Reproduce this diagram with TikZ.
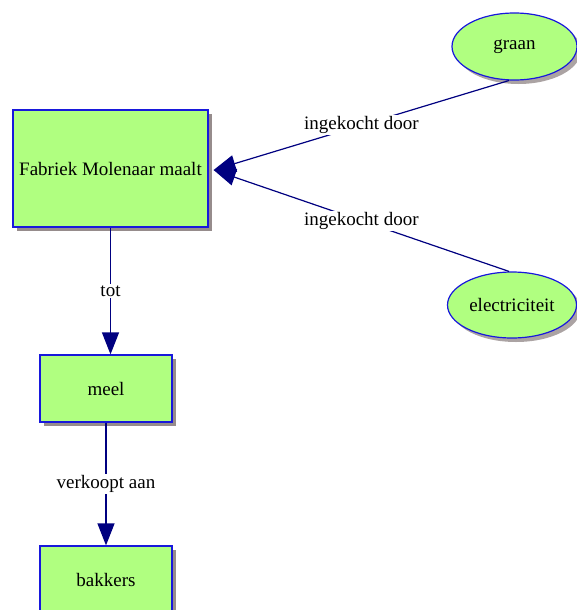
\documentclass[tikz,border=0pt]{standalone}
\usepackage{fontspec}
\setmainfont{Liberation Serif}
\newfontfamily\diafont{Liberation Serif}
\usetikzlibrary{arrows.meta,shapes.geometric,shadows}
\definecolor{nodefill}{RGB}{176,255,128}
\definecolor{nodeborder}{RGB}{24,24,220}
\definecolor{edgecol}{RGB}{0,0,128}
\definecolor{shadowcol}{RGB}{150,140,140}
\begin{document}
\begin{tikzpicture}[x=1pt,y=-1pt,
  every node/.style={font=\diafont\fontsize{19}{22}\selectfont},
  boxnode/.style={rectangle, draw=nodeborder, line width=1.2pt, fill=nodefill, inner sep=0pt,
    drop shadow={shadow xshift=4pt, shadow yshift=-4pt, fill=shadowcol, opacity=1}},
  ellnode/.style={ellipse, draw=nodeborder, line width=1.2pt, fill=nodefill, inner sep=0pt,
    drop shadow={shadow xshift=4pt, shadow yshift=-4pt, fill=shadowcol, opacity=0.8}},
  link/.style={draw=edgecol, line width=1.2pt, -{Triangle[length=22pt,width=17pt]}},
  lbl/.style={fill=white, inner sep=1.5pt}]
\useasboundingbox (0,0) rectangle (577,610);
\node[boxnode, minimum width=195pt, minimum height=117pt] (fab) at (110.5,168.5) {Fabriek Molenaar maalt};
\node[boxnode, minimum width=132pt, minimum height=67pt] (meel) at (106,388.5) {meel};
\node[boxnode, minimum width=132pt, minimum height=67pt] (bak) at (106,579.5) {bakkers};
\node[ellnode, minimum width=125pt, minimum height=67pt] (graan) at (514.5,46.5) {graan};
\node[ellnode, minimum width=129pt, minimum height=66pt] (elec) at (512,305) {electriciteit};
\coordinate (fabin) at ([xshift=5pt,yshift=-1.5pt]fab.east);
\draw[link] (graan.-99) -- node[lbl] {ingekocht door} (fabin);
\draw[link] (elec.95) -- node[lbl] {ingekocht door} (fabin);
\draw[link] (fab.south) -- node[lbl] {tot} (fab.south |- meel.north);
\draw[link] (meel.south) -- node[lbl] {verkoopt aan} (bak.north);
\end{tikzpicture}
\end{document}
